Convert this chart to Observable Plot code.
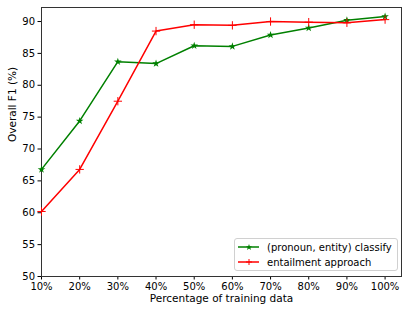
<!DOCTYPE html>
<html><head><meta charset="utf-8">
<script src="https://cdn.jsdelivr.net/npm/d3@7"></script>
<script src="https://cdn.jsdelivr.net/npm/@observablehq/plot@0.6"></script>
<style>
body{margin:0;background:#fff;font-family:"DejaVu Sans",sans-serif;}
#wrap{position:relative;width:409px;height:314px;}
#legend{position:absolute;left:234px;top:238px;width:162px;height:31px;border:1px solid #d0d0d0;border-radius:3px;background:rgba(255,255,255,0.85);font-size:10px;color:#000;}
.row{position:absolute;left:3px;height:14px;display:flex;align-items:center;}
.row svg{margin-right:7px;}
</style>
</head><body><div id="wrap"><div id="legend"></div></div>
<script>
const percents = [10, 20, 30, 40, 50, 60, 70, 80, 90, 100];
const classify = [66.8, 74.4, 83.7, 83.4, 86.2, 86.1, 87.9, 89.0, 90.2, 90.8];
const entailment = [60.2, 66.8, 77.5, 88.5, 89.5, 89.4, 90.0, 89.9, 89.8, 90.3];
const yTicks = [50, 55, 60, 65, 70, 75, 80, 85, 90];
const seriesNames = ["(pronoun, entity) classify", "entailment approach"];
const seriesColors = ["#008000", "#ff0000"];
const xLabel = "Percentage of training data";
const yLabel = "Overall F1 (%)";

const dataA = percents.map((p, i) => ({p, v: classify[i]}));
const dataB = percents.map((p, i) => ({p, v: entailment[i]}));

const chart = Plot.plot({
  width: 409, height: 314,
  marginLeft: 41, marginRight: 8, marginTop: 7, marginBottom: 38,
  style: {fontFamily: "DejaVu Sans", fontSize: "10px", background: "#fff", color: "#000"},
  x: {type: "linear", domain: [10, 104.3]},
  y: {domain: [50, 92.2]},
  marks: [
    Plot.axisX({ticks: percents, tickFormat: d => d + "%", tickSize: 3.5, tickPadding: 3, label: null, fontSize: 10}),
    Plot.axisY({ticks: yTicks, tickSize: 3.5, tickPadding: 3, label: null, fontSize: 10}),
    Plot.frame({stroke: "#333", strokeWidth: 1}),
    Plot.line(dataA, {x: "p", y: "v", stroke: seriesColors[0], strokeWidth: 1.5}),
    Plot.dot(dataA, {x: "p", y: "v", symbol: "star", fill: seriesColors[0], r: 2.4}),
    Plot.line(dataB, {x: "p", y: "v", stroke: seriesColors[1], strokeWidth: 1.5}),
    Plot.dot(dataB, {x: "p", y: "v", symbol: "plus", stroke: seriesColors[1], strokeWidth: 1, r: 2.8}),
    Plot.text([xLabel], {frameAnchor: "bottom", dy: 25, fontSize: 10.5}),
    Plot.text([yLabel], {frameAnchor: "left", dx: -29, rotate: -90, fontSize: 10.5})
  ]
});
const wrap = document.getElementById("wrap");
wrap.insertBefore(chart, wrap.firstChild);

const legend = document.getElementById("legend");
const markers = [
  '<path d="M11,4 L11.8,6.2 L14.1,6.2 L12.3,7.6 L13,9.9 L11,8.5 L9,9.9 L9.7,7.6 L7.9,6.2 L10.2,6.2 Z" fill="#008000"/>',
  '<path d="M11,4V10M8,7H14" stroke="#ff0000" stroke-width="1"/>'
];
seriesNames.forEach((name, i) => {
  const row = document.createElement("div");
  row.className = "row";
  row.style.top = (i === 0 ? 1 : 16) + "px";
  row.innerHTML = `<svg width="22" height="14"><line x1="0" x2="21" y1="7" y2="7" stroke="${seriesColors[i]}" stroke-width="1.5"/>${markers[i]}</svg><span>${name}</span>`;
  legend.appendChild(row);
});
</script>
</body></html>
